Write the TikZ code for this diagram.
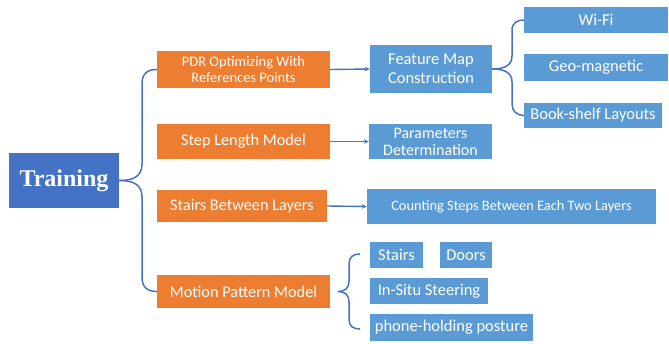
\documentclass[tikz,border=0pt]{standalone}
\usepackage{fontspec}
\setmainfont{Carlito}
\newfontfamily\trainfont{Liberation Serif}
\usetikzlibrary{arrows.meta}
\definecolor{tblue}{HTML}{4472C4}
\definecolor{lblue}{HTML}{5B9BD5}
\definecolor{orng}{HTML}{ED7D31}
\begin{document}
\begin{tikzpicture}[x=1pt,y=-1pt,
  box/.style={inner sep=0pt, text=white, align=center},
  obox/.style={box, fill=orng, font=\fontsize{16.3}{18}\selectfont},
  bbox/.style={box, fill=lblue, font=\fontsize{16.5}{19}\selectfont},
  sbox/.style={box, fill=lblue, font=\fontsize{16.5}{18}\selectfont},
  conn/.style={draw=tblue, line width=1.5pt},
  arr/.style={draw=tblue, line width=1.4pt, -{Stealth[length=5pt,width=4.5pt]}}
]
\useasboundingbox (0,0) rectangle (669,343);
\node[box, fill=tblue, minimum width=110pt, minimum height=55pt, font=\trainfont\bfseries\fontsize{24}{26}\selectfont] (train) at (64,180.5) {Training};

\node[obox, minimum width=173pt, minimum height=37pt, font=\fontsize{14.5}{16.7}\selectfont] (pdr) at (243.5,69.5) {PDR Optimizing With\\References Points};
\node[obox, minimum width=173pt, minimum height=35pt] (step) at (243.5,141.5) {Step Length Model};
\node[obox, minimum width=170pt, minimum height=32pt] (stairs) at (242,206) {Stairs Between Layers};
\node[obox, minimum width=173pt, minimum height=33pt] (motion) at (243.5,291.5) {Motion Pattern Model};

\node[bbox, minimum width=122pt, minimum height=48pt] (feat) at (431,69) {Feature Map\\Construction};
\node[bbox, minimum width=123pt, minimum height=35pt, font=\fontsize{16}{17}\selectfont] (param) at (430.5,141.5) {Parameters\\Determination};
\node[bbox, minimum width=289pt, minimum height=35pt, font=\fontsize{14.4}{16}\selectfont] (count) at (511.5,206.5) {Counting Steps Between Each Two Layers};

\node[sbox, minimum width=144pt, minimum height=26pt] (wifi) at (596,20) {Wi-Fi};
\node[sbox, minimum width=144pt, minimum height=27pt] (geo) at (596,67.5) {Geo-magnetic};
\node[sbox, minimum width=138pt, minimum height=25pt] (book) at (593,115.5) {Book-shelf Layouts};

\node[sbox, minimum width=53pt, minimum height=26pt] (st) at (396.5,255) {Stairs};
\node[sbox, minimum width=52pt, minimum height=26pt] (door) at (466,255) {Doors};
\node[sbox, minimum width=118pt, minimum height=26pt] (insitu) at (429,291) {In-Situ Steering};
\node[sbox, minimum width=163pt, minimum height=27pt] (phone) at (451.5,327.5) {phone-holding posture};

% brace 1
\draw[conn] (train.east) .. controls (134,180.5) and (142,176) .. (142,164) -- (142,84) .. controls (142,74) and (147,69.5) .. (pdr.west);
\draw[conn] (train.east) .. controls (134,180.5) and (142,185) .. (142,197) -- (142,277) .. controls (142,287) and (147,291.5) .. (motion.west);
% brace 2
\draw[conn] (feat.east) .. controls (505,69) and (512,65) .. (512,56) -- (512,30) .. controls (512,23) and (517,20) .. (wifi.west);
\draw[conn] (feat.east) .. controls (505,69) and (512,73) .. (512,82) -- (512,104) .. controls (512,111) and (517,115.5) .. (book.west);
% brace 3
\coordinate (m3) at (338,291.5);
\coordinate (t3) at (360,254);
\coordinate (b3) at (360,329);
\draw[conn] (m3) .. controls (345,291.5) and (349,288) .. (349,281) -- (349,264) .. controls (349,257) and (353,254) .. (t3);
\draw[conn] (m3) .. controls (345,291.5) and (349,295) .. (349,302) -- (349,319) .. controls (349,326) and (353,329) .. (b3);
% arrows
\draw[arr] (pdr.east) -- (feat.west);
\draw[arr] (step.east) -- (param.west);
\draw[arr] (stairs.east) -- (count.west);
\end{tikzpicture}
\end{document}
